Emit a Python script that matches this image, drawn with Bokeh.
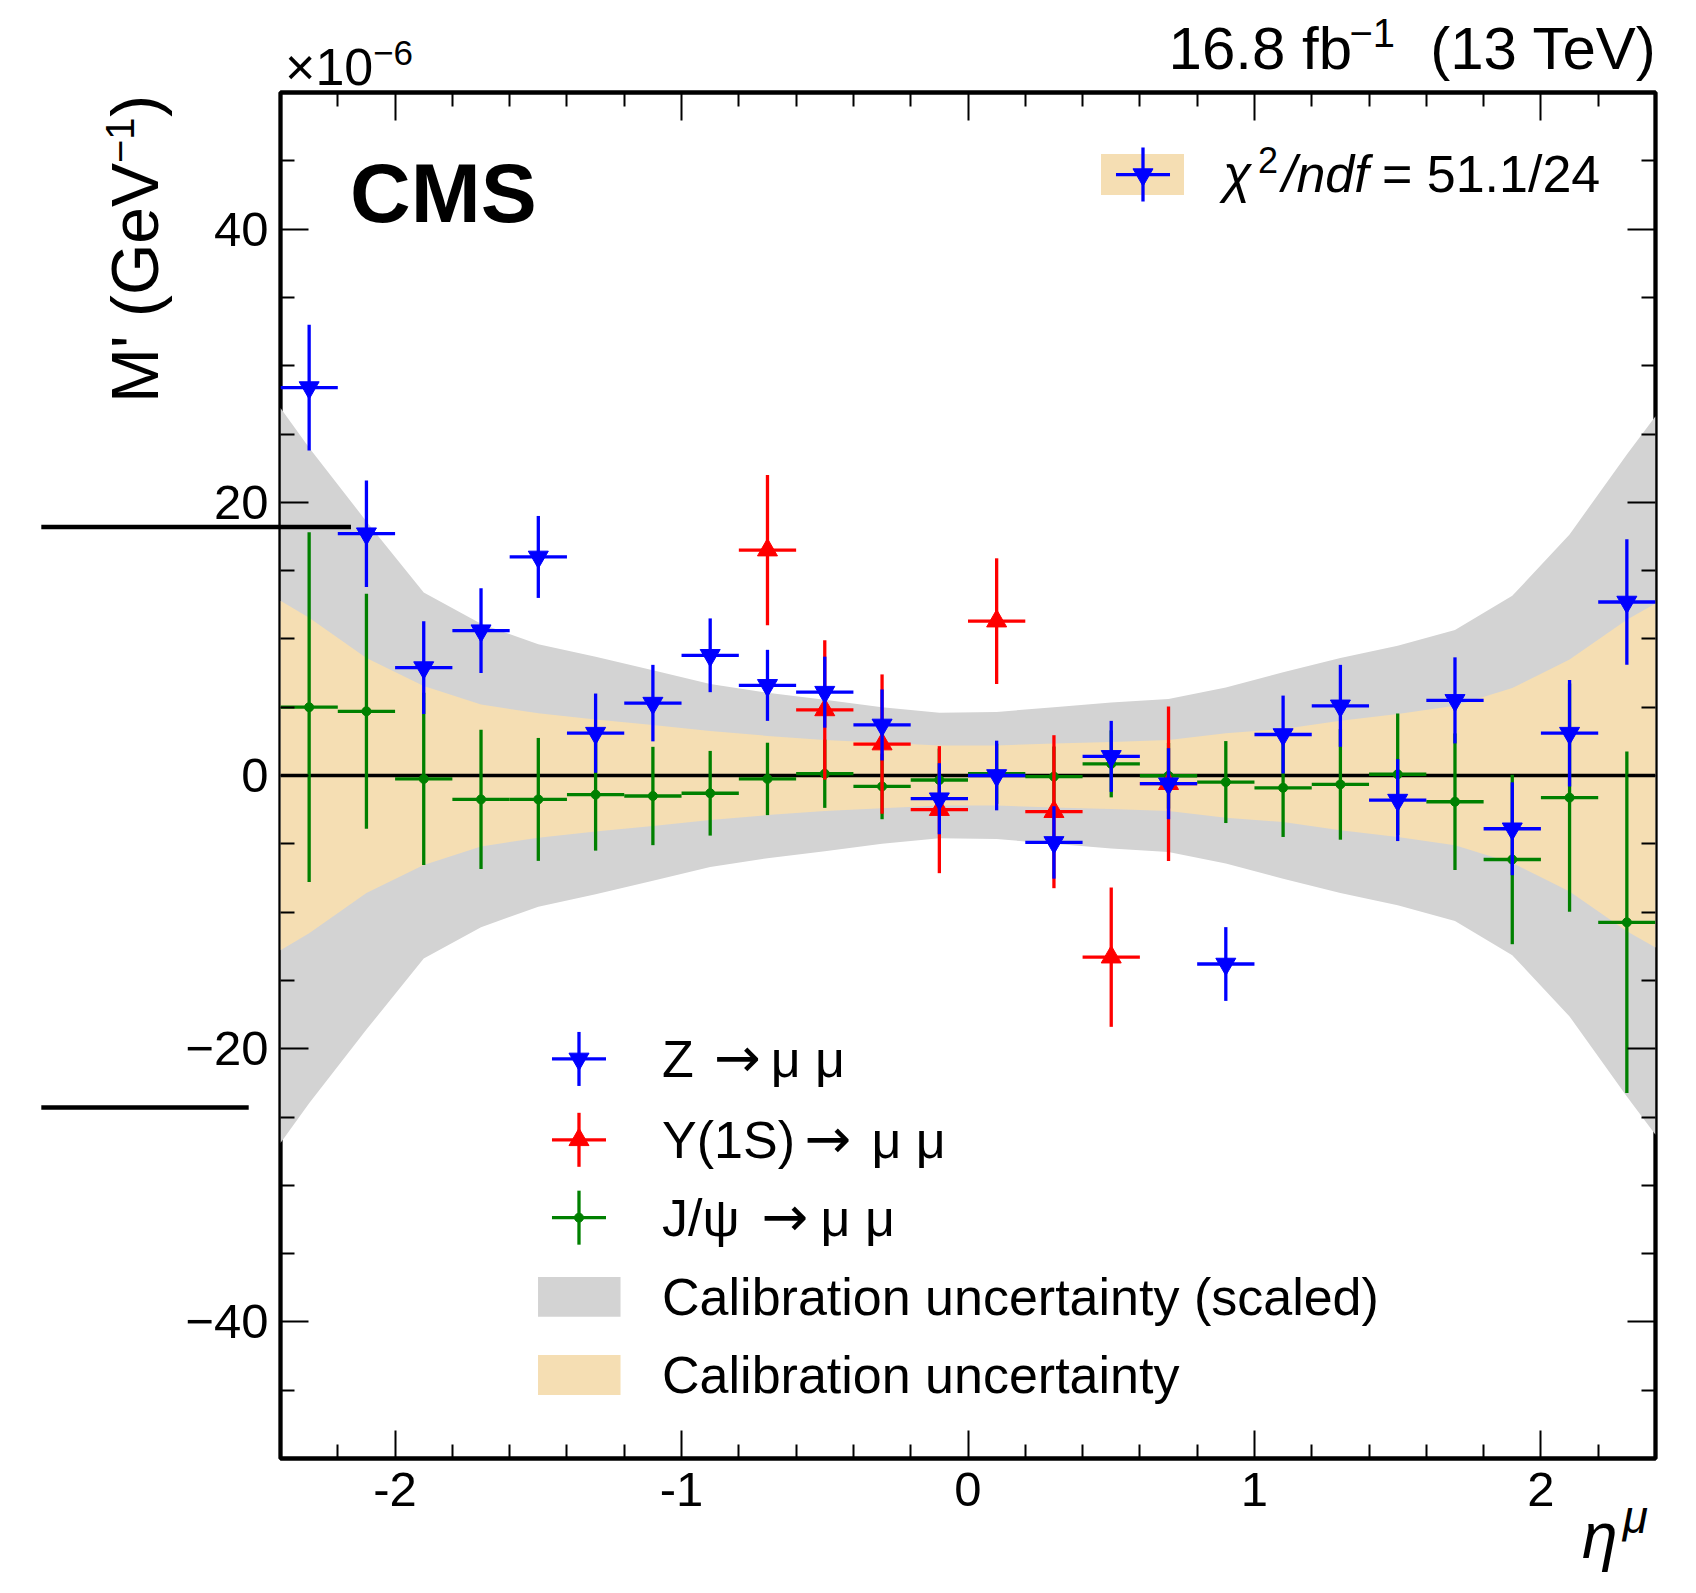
import numpy as np
from bokeh.plotting import figure
from bokeh.models import ColumnDataSource, FixedTicker, LinearAxis, Range1d
from bokeh.core.properties import value
from bokeh.embed import file_html
from bokeh.resources import INLINE

# ---------------- data (units of 1e-6 GeV^-1) ----------------
eta = [-2.3, -2.1, -1.9, -1.7, -1.5, -1.3, -1.1, -0.9, -0.7, -0.5, -0.3, -0.1,
       0.1, 0.3, 0.5, 0.7, 0.9, 1.1, 1.3, 1.5, 1.7, 1.9, 2.1, 2.3]
bin_width = 0.2

z_mprime = [28.4, 17.7, 7.9, 10.6, 16.0, 3.1, 5.3, 8.8, 6.6, 6.1, 3.7, -1.7,
            0.0, -4.9, 1.4, -0.6, -13.8, 3.0, 5.1, -1.8, 5.5, -3.9, 3.1, 12.7]
z_err = [4.6, 3.9, 3.4, 3.1, 3.0, 2.9, 2.8, 2.7, 2.6, 2.6, 2.6, 2.6,
         2.55, 2.65, 2.6, 2.6, 2.7, 2.85, 3.0, 3.0, 3.15, 3.4, 3.9, 4.6]

ups_eta = [-0.7, -0.5, -0.3, -0.1, 0.1, 0.3, 0.5, 0.7]
ups_mprime = [16.5, 4.8, 2.3, -2.5, 11.3, -2.65, -13.3, -0.6]
ups_err = [5.5, 5.1, 5.1, 4.65, 4.6, 5.6, 5.1, 5.65]

jpsi_mprime = [5.0, 4.7, -0.25, -1.75, -1.75, -1.4, -1.5, -1.3, -0.25, 0.13, -0.8, -0.33,
               0.13, -0.08, 0.85, -0.02, -0.48, -0.9, -0.65, 0.09, -1.92, -6.15, -1.62, -10.75]
jpsi_err = [12.8, 8.6, 6.3, 5.1, 4.5, 4.1, 3.6, 3.1, 2.65, 2.5, 2.4, 2.3,
            2.2, 2.2, 2.45, 2.4, 3.0, 3.6, 4.05, 4.45, 5.0, 6.2, 8.35, 12.5]

band_eta = [-2.4, -2.3, -2.1, -1.9, -1.7, -1.5, -1.3, -1.1, -0.9, -0.7, -0.5, -0.3, -0.1,
            0.1, 0.3, 0.5, 0.7, 0.9, 1.1, 1.3, 1.5, 1.7, 1.9, 2.1, 2.3, 2.4]
calib_unc_scaled = [26.9, 24.0, 18.6, 13.4, 11.1, 9.6, 8.7, 7.7, 6.7, 6.05, 5.55, 5.0, 4.6,
                    4.65, 5.0, 5.35, 5.6, 6.45, 7.55, 8.6, 9.5, 10.65, 13.15, 17.65, 23.5, 26.3]
calib_unc = [12.8, 11.55, 8.6, 6.55, 5.2, 4.55, 4.1, 3.7, 3.25, 2.9, 2.6, 2.4, 2.2,
             2.2, 2.35, 2.45, 2.6, 3.1, 3.4, 4.0, 4.5, 5.1, 6.4, 8.5, 11.4, 12.6]

decay_parents = ["Z", "\u03a5(1S)", "J/\u03c8"]
decay_products = "\u03bc \u03bc"
band_labels = ["Calibration uncertainty (scaled)", "Calibration uncertainty"]
fit_label = "= 51.1/24"

x_tick_values = [-2, -1, 0, 1, 2]
x_tick_labels = ["-2", "-1", "0", "1", "2"]
x_minor_values = [-2.2, -1.8, -1.6, -1.4, -1.2, -0.8, -0.6, -0.4, -0.2,
                  0.2, 0.4, 0.6, 0.8, 1.2, 1.4, 1.6, 1.8, 2.2]
y_tick_values = [-40, -20, 0, 20, 40]
y_tick_labels = ["\u221240", "\u221220", "0", "20", "40"]
y_minor_values = [-45, -35, -30, -25, -15, -10, -5, 5, 10, 15, 25, 30, 35, 45]

# stray horizontal strokes visible at the left edge of the original picture
stray_y = [18.2, -24.3]
stray_x0 = [-3.235, -3.235]
stray_x1 = [-2.154, -2.511]

# ---------------- styles ----------------
FONT = "Liberation Sans"
BLUE, RED, GREEN = "#0000ff", "#ff0000", "#008000"
GREY, TAN = "#d3d3d3", "#f5deb3"
LW = 3.3
TRI = 20
DOT = 9

p = figure(width=1680, height=1577,
           x_range=Range1d(-2.4, 2.4), y_range=Range1d(-50, 50),
           output_backend="svg", toolbar_location=None,
           min_border_left=280, min_border_right=25,
           min_border_top=92, min_border_bottom=119,
           background_fill_color="white", border_fill_color="white",
           outline_line_color="black", outline_line_width=4.3)
p.xgrid.visible = False
p.ygrid.visible = False


def style_axis(ax, major, minor, labels=None, standoff=10):
    ax.ticker = FixedTicker(ticks=major, minor_ticks=minor)
    ax.axis_line_color = None
    ax.major_tick_in = 28
    ax.major_tick_out = 0
    ax.minor_tick_in = 14
    ax.minor_tick_out = 0
    ax.major_tick_line_width = 2
    ax.minor_tick_line_width = 2
    ax.major_tick_line_color = "black"
    ax.minor_tick_line_color = "black"
    if labels is not None:
        ax.major_label_overrides = dict(zip(major, labels))
        ax.major_label_text_font = FONT
        ax.major_label_text_font_size = "49px"
        ax.major_label_text_color = "black"
        ax.major_label_standoff = standoff
    else:
        ax.major_label_text_color = None
        ax.major_label_text_font_size = "1px"
        ax.major_label_standoff = 0


style_axis(p.xaxis[0], x_tick_values, x_minor_values, x_tick_labels, standoff=14)
style_axis(p.yaxis[0], y_tick_values, y_minor_values, y_tick_labels, standoff=12)

top_axis = LinearAxis()
style_axis(top_axis, x_tick_values, x_minor_values)
p.add_layout(top_axis, "above")
right_axis = LinearAxis()
style_axis(right_axis, y_tick_values, y_minor_values)
p.add_layout(right_axis, "right")

# ---------------- bands ----------------
band_src = ColumnDataSource(dict(
    x=band_eta,
    lo_s=[-u for u in calib_unc_scaled], hi_s=calib_unc_scaled,
    lo=[-u for u in calib_unc], hi=calib_unc))
p.varea(x="x", y1="lo_s", y2="hi_s", source=band_src, fill_color=GREY)
p.varea(x="x", y1="lo", y2="hi", source=band_src, fill_color=TAN)
p.hspan(y=[0], line_color="black", line_width=LW)


# ---------------- points with error bars ----------------
def draw_points(xs, ys, es, color, marker, size):
    src = ColumnDataSource(dict(
        x=xs, y=ys,
        x0=[x - bin_width / 2 for x in xs], x1=[x + bin_width / 2 for x in xs],
        y0=[y - e for y, e in zip(ys, es)], y1=[y + e for y, e in zip(ys, es)]))
    p.segment(x0="x0", y0="y", x1="x1", y1="y", source=src, line_color=color, line_width=LW)
    p.segment(x0="x", y0="y0", x1="x", y1="y1", source=src, line_color=color, line_width=LW)
    p.scatter(x="x", y="y", source=src, marker=marker, size=size,
              fill_color=color, line_color=color, line_width=1)


draw_points(eta, jpsi_mprime, jpsi_err, GREEN, "circle", DOT)
draw_points(ups_eta, ups_mprime, ups_err, RED, "triangle", TRI)
draw_points(eta, z_mprime, z_err, BLUE, "inverted_triangle", TRI)


# ---------------- texts ----------------
def txt(x, y, s, size, style="normal", align="left", angle=0.0, level="glyph", font=FONT):
    p.text(x=[x], y=[y], text=[s], text_font=value(font), text_font_size=value(size),
           text_font_style=style, text_align=align, text_baseline="alphabetic",
           text_color="black", angle=angle, level=level)


txt(-2.157, 42.62, "CMS", "84px", style="bold")

# legend (chi2 box, top right)
HX, HY = 0.0943, 1.977
p.quad(left=[0.4643], right=[0.754], bottom=[42.50], top=[45.50], fill_color=TAN, line_color=None)
p.segment(x0=[0.6109 - HX, 0.6109], x1=[0.6109 + HX, 0.6109],
          y0=[43.99, 43.99 - HY], y1=[43.99, 43.99 + HY], line_color=BLUE, line_width=LW)
p.scatter(x=[0.6109], y=[43.99], marker="inverted_triangle", size=TRI,
          fill_color=BLUE, line_color=BLUE)
txt(0.890, 44.04, "\u03c7", "52px", style="italic")
txt(1.012, 45.09, "2", "36px")
txt(1.096, 44.04, "/ndf", "52px", style="italic")
txt(1.445, 44.04, fit_label, "52px")

# legend (bottom)
LX = -1.358
rows_y = [-20.75, -26.67, -32.37]
for ry, col, mk, ms in zip(rows_y, [BLUE, RED, GREEN],
                          ["inverted_triangle", "triangle", "circle"], [TRI, TRI, DOT]):
    p.segment(x0=[LX - HX, LX], x1=[LX + HX, LX], y0=[ry, ry - HY], y1=[ry, ry + HY],
              line_color=col, line_width=LW)
    p.scatter(x=[LX], y=[ry], marker=mk, size=ms, fill_color=col, line_color=col)
p.quad(left=[-1.501], right=[-1.213], bottom=[-39.63], top=[-36.71], fill_color=GREY, line_color=None)
p.quad(left=[-1.501], right=[-1.213], bottom=[-45.35], top=[-42.42], fill_color=TAN, line_color=None)

text_x = -1.068
text_rows = [-20.72, -26.67, -32.37]
arrow_x = [-0.887, -0.571, -0.721]
prod_x = [-0.689, -0.337, -0.515]
for ty, parent, ax_, px_ in zip(text_rows, decay_parents, arrow_x, prod_x):
    txt(text_x, ty, parent, "52px")
    txt(ax_, ty + 0.1, "\u2192", "56px", font="DejaVu Sans")
    txt(px_, ty, decay_products, "52px")
for ty, lab in zip([-38.17, -43.88], band_labels):
    txt(text_x, ty, lab, "52px")

# outside-frame texts
txt(-2.384, 51.87, "\u00d710", "52px", level="overlay")
txt(-2.077, 52.89, "\u22126", "35px", level="overlay")
txt(2.405, 53.20, "(13 TeV)", "60px", align="right", level="overlay")
txt(1.4906, 54.34, "\u22121", "40px", align="right", level="overlay")
txt(1.3405, 53.20, "16.8 fb", "60px", align="right", level="overlay")

# y title (rotated)
txt(-2.909, 27.27, "M' (GeV", "66px", angle=np.pi / 2, level="overlay")
txt(-2.962, 44.84, "\u22121", "40px", angle=np.pi / 2, level="overlay")
txt(-2.909, 48.2, ")", "66px", angle=np.pi / 2, level="overlay")

# x title
txt(2.143, -55.7, "\u03b7", "64px", style="italic", level="overlay")
txt(2.286, -54.3, "\u03bc", "46px", style="italic", level="overlay")

# stray strokes
p.segment(x0=stray_x0, x1=stray_x1, y0=stray_y, y1=stray_y, line_color="black",
          line_width=4.5, level="overlay")

open("out.html", "w").write(file_html(p, INLINE))
